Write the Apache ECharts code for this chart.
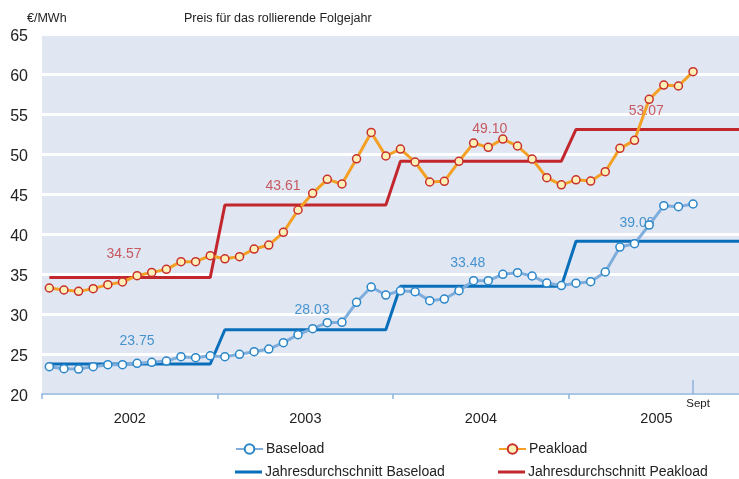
<!DOCTYPE html>
<html><head><meta charset="utf-8">
<script src="https://cdn.jsdelivr.net/npm/echarts@6/dist/echarts.min.js"></script>
<style>html,body{margin:0;padding:0;background:#fff}#c{width:739px;height:479px}</style>
</head><body><div id="c"></div>
<script>
const years = ['2002', '2003', '2004', '2005'];
const baseload = [
  23.42, 23.17, 23.12, 23.42, 23.67, 23.67, 23.83, 23.96, 24.12, 24.67, 24.54, 24.77,
  24.67, 24.96, 25.29, 25.62, 26.42, 27.42, 28.17, 28.92, 28.96, 31.46, 33.37, 32.37,
  32.9, 32.79, 31.67, 31.87, 32.92, 34.17, 34.17, 34.96, 35.17, 34.75, 33.87, 33.56,
  33.85, 34.04, 35.25, 38.37, 38.79, 41.12, 43.54, 43.42, 43.75
];
const peakload = [
  33.25, 33.0, 32.83, 33.17, 33.67, 34.0, 34.79, 35.2, 35.58, 36.54, 36.54, 37.29,
  36.9, 37.17, 38.12, 38.62, 40.21, 43.0, 45.08, 46.83, 46.25, 49.4, 52.7, 49.75,
  50.62, 49.0, 46.5, 46.58, 49.08, 51.37, 50.83, 51.87, 51.0, 49.37, 47.04, 46.15,
  46.77, 46.62, 47.79, 50.71, 51.71, 56.83, 58.62, 58.5, 60.29
];
const avgBase = [23.75, 28.03, 33.48, 39.09];
const avgPeak = [34.57, 43.61, 49.10, 53.07];
const yTicks = [20, 25, 30, 35, 40, 45, 50, 55, 60, 65];

const XMAX = 47.64;
const FONT = 'Liberation Sans, Arial, sans-serif';

function monthly(arr) { return arr.map((v, i) => [i + 0.5, v]); }
function steps(avgs) {
  const d = [];
  avgs.forEach((v, k) => {
    d.push([12 * k + 0.5, v]);
    d.push([k === avgs.length - 1 ? XMAX : 12 * k + 11.5, v]);
  });
  return d;
}
// label anchors (month position, value) for annual averages
const baseLabelAt = [[6.49, 26.6], [18.45, 30.5], [29.1, 36.4], [40.67, 41.33]];
const peakLabelAt = [[5.6, 37.5], [16.47, 46.0], [30.6, 53.1], [41.3, 55.4]];
function labelData(avgs, at) { return avgs.map((v, k) => ({ value: at[k], avg: v })); }

function leg(name, left, top, plain) {
  const l = {
    left: left, top: top, itemWidth: 27, itemHeight: 12, itemGap: 0,
    textStyle: { fontFamily: FONT, fontSize: 14, color: '#222', padding: [0, 0, 0, -2] },
    data: [name]
  };
  if (plain) {
    l.data = [{ name: name, icon: 'rect' }];
    l.itemHeight = 3;
  }
  return l;
}

const chart = echarts.init(document.getElementById('c'), null, { renderer: 'canvas' });
chart.setOption({
  animation: false,
  backgroundColor: '#fff',
  textStyle: { fontFamily: FONT },
  title: {
    text: 'Preis für das rollierende Folgejahr',
    left: 179, top: 7,
    textStyle: { fontFamily: FONT, fontSize: 12.5, fontWeight: 'normal', color: '#222' }
  },
  graphic: [{
    type: 'text', left: 27, top: 12,
    style: { text: '€/MWh', fontFamily: FONT, fontSize: 12.5, fill: '#222' }
  }],
  grid: {
    left: 42, right: 0, top: 34, bottom: 85,
    show: true, backgroundColor: '#E0E7F3', borderWidth: 0
  },
  legend: [
    leg('Baseload', 230, 437),
    leg('Jahresdurchschnitt Baseload', 230, 460, true),
    leg('Peakload', 493, 437),
    leg('Jahresdurchschnitt Peakload', 493, 460, true)
  ],
  xAxis: [{
    type: 'value', min: 0, max: XMAX,
    axisLine: { show: true, lineStyle: { color: '#8FB4DD', width: 1.5 } },
    axisTick: { show: true, customValues: [0, 12, 24, 36], length: 5, lineStyle: { color: '#8FB4DD', width: 1.5 } },
    axisLabel: {
      customValues: [6, 18, 30, 42], margin: 17,
      formatter: v => years[Math.round((v - 6) / 12)],
      fontFamily: FONT, fontSize: 14.5, color: '#222'
    },
    splitLine: { show: false }
  }, {
    type: 'value', min: 0, max: XMAX, position: 'bottom',
    axisLine: { show: false },
    axisTick: { show: true, inside: true, customValues: [44.5], length: 14, lineStyle: { color: '#8FB4DD', width: 1.5 } },
    axisLabel: {
      customValues: [44.5], margin: 4, formatter: () => 'Sept',
      fontFamily: FONT, fontSize: 11.5, color: '#222', padding: [0, 0, 0, 10]
    },
    splitLine: { show: false }
  }],
  yAxis: {
    type: 'value', min: yTicks[0], max: yTicks[yTicks.length - 1], interval: 5,
    axisLine: { show: false }, axisTick: { show: false },
    axisLabel: { margin: 14, fontFamily: FONT, fontSize: 16, color: '#222',
      verticalAlign: 'top', padding: [-5, 0, 0, 0] },
    splitLine: { show: true, lineStyle: { color: '#ffffff', width: 3 } }
  },
  series: [{
    name: 'Jahresdurchschnitt Baseload', type: 'line', data: steps(avgBase),
    symbol: 'none', lineStyle: { color: '#0A6FBA', width: 3 }, itemStyle: { color: '#0A6FBA' }, z: 3
  }, {
    name: 'Jahresdurchschnitt Peakload', type: 'line', data: steps(avgPeak),
    symbol: 'none', lineStyle: { color: '#C1272D', width: 3 }, itemStyle: { color: '#C1272D' }, z: 3
  }, {
    name: 'Baseload', type: 'line', data: monthly(baseload),
    symbol: 'circle', symbolSize: 8,
    lineStyle: { color: '#7FAEDD', width: 3 },
    itemStyle: { color: '#ffffff', borderColor: '#2A86C8', borderWidth: 1.5 }, z: 4
  }, {
    name: 'Peakload', type: 'line', data: monthly(peakload),
    symbol: 'circle', symbolSize: 8,
    lineStyle: { color: '#F4A025', width: 3 },
    itemStyle: { color: '#FFF0B8', borderColor: '#C8302C', borderWidth: 1.5 }, z: 4
  }, {
    type: 'scatter', data: labelData(avgBase, baseLabelAt), symbolSize: 0, silent: true, z: 2,
    label: { show: true, position: 'inside', formatter: p => p.data.avg.toFixed(2),
      fontFamily: FONT, fontSize: 14, color: '#1E7DC5' }
  }, {
    type: 'scatter', data: labelData(avgPeak, peakLabelAt), symbolSize: 0, silent: true, z: 2,
    label: { show: true, position: 'inside', formatter: p => p.data.avg.toFixed(2),
      fontFamily: FONT, fontSize: 14, color: '#C0353B' }
  }]
});
</script></body></html>
